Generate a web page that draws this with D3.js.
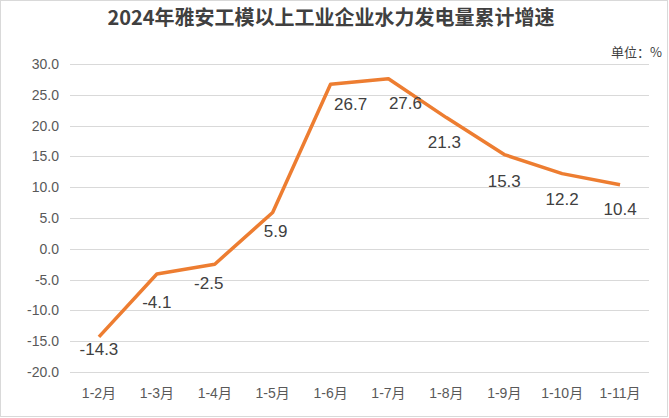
<!DOCTYPE html>
<html>
<head>
<meta charset="utf-8">
<script src="https://d3js.org/d3.v7.min.js"></script>
<style>
    body { margin: 0; background: #ffffff; }
    #chart .font { font-family: "Liberation Sans", "Noto Sans CJK SC", sans-serif; }
    #chart .title { font-family: "Noto Sans CJK SC", sans-serif; font-size: 20px; font-weight: bold; fill: #404040; }
    #chart .unit { font-family: "Noto Sans CJK SC", sans-serif; font-size: 13px; fill: #404040; }
    #chart .tick-label { font-size: 14px; fill: #595959; }
    #chart .value-label { font-size: 17px; fill: #404040; }
    #chart .grid { stroke: #d9d9d9; stroke-width: 1; }
    #chart .series { fill: none; stroke: #ed7d31; stroke-width: 3.5; stroke-linejoin: round; }
</style>
</head>
<body>
<script>
const WIDTH = 669;
const HEIGHT = 418;

const TITLE = "2024年雅安工模以上工业企业水力发电量累计增速";
const UNIT = "单位：%";

// data
const months = ["1-2月", "1-3月", "1-4月", "1-5月", "1-6月", "1-7月", "1-8月", "1-9月", "1-10月", "1-11月"];
const growth = [-14.3, -4.1, -2.5, 5.9, 26.7, 27.6, 21.3, 15.3, 12.2, 10.4];
const yTicks = [-20, -15, -10, -5, 0, 5, 10, 15, 20, 25, 30];

// hand placement of the value labels (text centre relative to the point)
const labelShift = [[0, 13], [0, 28], [-6, 19], [3, 19], [20, 20], [17, 25], [-2, 25], [0, 27], [0, 26], [0, 25]];

const PLOT_LEFT = 70, PLOT_RIGHT = 649, PLOT_TOP = 64, PLOT_BOTTOM = 372;

// plain hyphen instead of the unicode minus d3 uses
const fmt = d => d.toFixed(1);

const svg = d3.select("body").append("svg")
    .attr("id", "chart")
    .attr("width", WIDTH)
    .attr("height", HEIGHT);

svg.append("rect")
    .attr("x", 0.5).attr("y", 0.5)
    .attr("width", WIDTH - 2).attr("height", HEIGHT - 2)
    .attr("fill", "#ffffff")
    .attr("stroke", "#d9d9d9");

svg.append("text")
    .attr("class", "title")
    .attr("x", 331).attr("y", 25)
    .attr("text-anchor", "middle")
    .text(TITLE);

svg.append("text")
    .attr("class", "unit")
    .attr("x", 662).attr("y", 57)
    .attr("text-anchor", "end")
    .text(UNIT);

const x = d3.scaleBand()
    .domain(months)
    .range([PLOT_LEFT, PLOT_RIGHT]);

const y = d3.scaleLinear()
    .domain([-20, 30])
    .range([PLOT_BOTTOM, PLOT_TOP]);

const cx = d => x(d) + x.bandwidth() / 2;

// gridlines
svg.append("g")
    .selectAll("line")
    .data(yTicks)
    .join("line")
    .attr("class", "grid")
    .attr("x1", PLOT_LEFT).attr("x2", PLOT_RIGHT)
    .attr("y1", d => Math.round(y(d)) + 0.5)
    .attr("y2", d => Math.round(y(d)) + 0.5);

// y axis labels
const yAxis = svg.append("g")
    .attr("transform", "translate(" + (PLOT_LEFT - 11) + ",0)")
    .call(d3.axisLeft(y).tickValues(yTicks).tickFormat(fmt).tickSize(0).tickPadding(0));
yAxis.select(".domain").remove();
yAxis.selectAll("text")
    .attr("class", "font tick-label")
    .attr("fill", null)
    .attr("font-size", null)
    .attr("font-family", null);

// x axis labels
const xAxis = svg.append("g")
    .attr("transform", "translate(0," + (PLOT_BOTTOM + 16) + ")")
    .call(d3.axisBottom(x).tickSize(0).tickPadding(0));
xAxis.select(".domain").remove();
xAxis.selectAll("text")
    .attr("class", "font tick-label")
    .attr("fill", null)
    .attr("font-size", null)
    .attr("font-family", null);

// series line
const line = d3.line()
    .x((d, i) => cx(months[i]))
    .y(d => y(d));

svg.append("path")
    .datum(growth)
    .attr("class", "series")
    .attr("d", line);

// value labels
svg.append("g")
    .selectAll("text")
    .data(growth)
    .join("text")
    .attr("class", "font value-label")
    .attr("text-anchor", "middle")
    .attr("dominant-baseline", "central")
    .attr("x", (d, i) => cx(months[i]) + labelShift[i][0])
    .attr("y", (d, i) => y(d) + labelShift[i][1])
    .text(fmt);
</script>
</body>
</html>
